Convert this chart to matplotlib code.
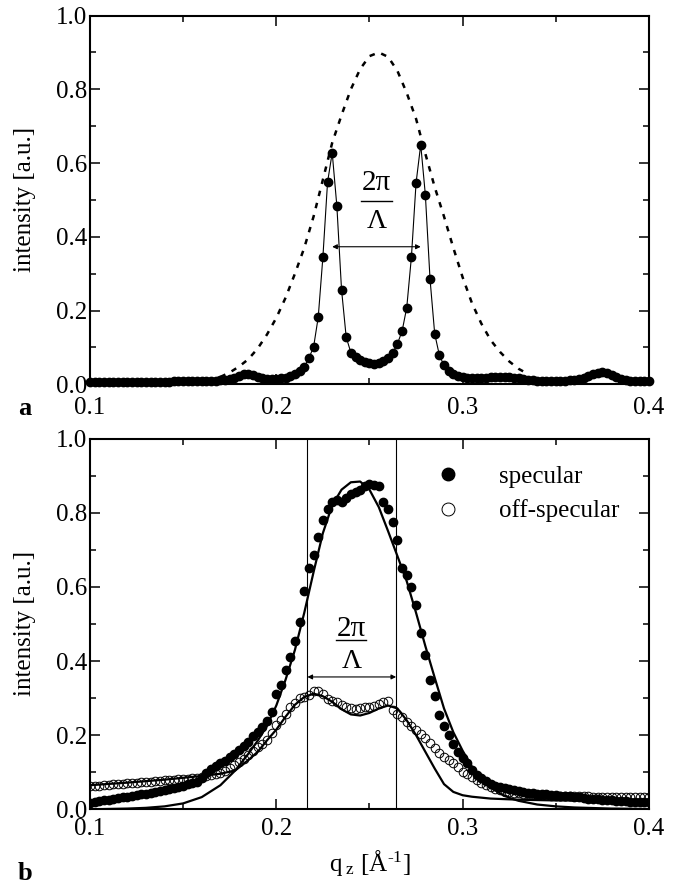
import numpy as np
import matplotlib
matplotlib.use("Agg")
import matplotlib.pyplot as plt
from matplotlib.ticker import MultipleLocator, FormatStrFormatter

plt.rcParams['font.family'] = ['Liberation Serif', 'DejaVu Serif']
plt.rcParams['mathtext.fontset'] = 'custom'
plt.rcParams['mathtext.rm'] = 'Liberation Serif'
plt.rcParams['mathtext.it'] = 'Liberation Serif:italic'

# measurement grid (same for all data sets)
q_start, q_step, n_pts = 0.1, 0.0025, 121
q_data = np.round(q_start + q_step * np.arange(n_pts), 5)

# --- panel a: measured intensity (dots) ---
int_a = [0.005, 0.005, 0.005, 0.005, 0.005, 0.005, 0.006, 0.006, 0.006, 0.006,
         0.006, 0.006, 0.007, 0.007, 0.007, 0.007, 0.007, 0.007, 0.008, 0.008,
         0.008, 0.008, 0.008, 0.009, 0.009, 0.009, 0.010, 0.010, 0.011, 0.012,
         0.014, 0.018, 0.023, 0.027, 0.028, 0.026, 0.021, 0.017, 0.015, 0.014,
         0.015, 0.016, 0.018, 0.022, 0.027, 0.035, 0.047, 0.071, 0.101, 0.182,
         0.345, 0.548, 0.628, 0.483, 0.257, 0.128, 0.086, 0.075, 0.066, 0.060,
         0.057, 0.056, 0.058, 0.063, 0.072, 0.086, 0.110, 0.144, 0.208, 0.345,
         0.546, 0.650, 0.513, 0.285, 0.137, 0.079, 0.051, 0.035, 0.027, 0.022,
         0.019, 0.017, 0.016, 0.016, 0.017, 0.018, 0.019, 0.020, 0.021, 0.021,
         0.020, 0.018, 0.016, 0.014, 0.012, 0.011, 0.010, 0.010, 0.010, 0.010,
         0.010, 0.010, 0.010, 0.011, 0.012, 0.014, 0.018, 0.023, 0.028, 0.031,
         0.032, 0.030, 0.025, 0.019, 0.014, 0.011, 0.009, 0.008, 0.008, 0.008,
         0.008]

# panel a: dotted envelope curve
q_env = [0.170, 0.175, 0.180, 0.185, 0.190, 0.195, 0.200, 0.205, 0.210, 0.215,
         0.220, 0.225, 0.230, 0.235, 0.240, 0.245, 0.250, 0.255, 0.260, 0.265,
         0.270, 0.275, 0.280, 0.285, 0.290, 0.295, 0.300, 0.305, 0.310, 0.315,
         0.320, 0.325, 0.330, 0.335]
int_env = [0.020, 0.032, 0.048, 0.068, 0.097, 0.135, 0.180, 0.235, 0.300, 0.370,
           0.455, 0.555, 0.655, 0.730, 0.800, 0.855, 0.890, 0.900, 0.888, 0.850,
           0.790, 0.720, 0.625, 0.535, 0.455, 0.370, 0.290, 0.220, 0.165, 0.120,
           0.088, 0.062, 0.042, 0.028]

# --- panel b: specular and off-specular data ---
spec_b = [0.018, 0.020, 0.022, 0.024, 0.026, 0.028, 0.030, 0.032, 0.034, 0.036,
          0.038, 0.040, 0.042, 0.045, 0.047, 0.050, 0.052, 0.055, 0.058, 0.061,
          0.064, 0.067, 0.070, 0.075, 0.085, 0.097, 0.108, 0.117, 0.125, 0.131,
          0.141, 0.150, 0.159, 0.170, 0.181, 0.198, 0.208, 0.222, 0.238, 0.262,
          0.310, 0.335, 0.375, 0.410, 0.455, 0.505, 0.590, 0.650, 0.685, 0.735,
          0.780, 0.811, 0.830, 0.833, 0.830, 0.840, 0.850, 0.855, 0.862, 0.871,
          0.878, 0.875, 0.871, 0.830, 0.811, 0.775, 0.725, 0.650, 0.632, 0.600,
          0.550, 0.475, 0.415, 0.350, 0.305, 0.255, 0.225, 0.200, 0.177, 0.155,
          0.138, 0.126, 0.105, 0.093, 0.085, 0.076, 0.068, 0.063, 0.060, 0.057,
          0.055, 0.052, 0.050, 0.047, 0.045, 0.043, 0.042, 0.041, 0.040, 0.039,
          0.038, 0.037, 0.036, 0.035, 0.033, 0.032, 0.030, 0.029, 0.028, 0.027,
          0.026, 0.025, 0.024, 0.023, 0.023, 0.022, 0.021, 0.021, 0.020, 0.020,
          0.020]

offspec_b = [0.062, 0.063, 0.064, 0.065, 0.066, 0.067, 0.068, 0.069, 0.070, 0.071,
             0.072, 0.073, 0.074, 0.075, 0.076, 0.077, 0.078, 0.079, 0.080, 0.081,
             0.082, 0.083, 0.084, 0.085, 0.087, 0.089, 0.092, 0.095, 0.099, 0.104,
             0.112, 0.119, 0.127, 0.136, 0.147, 0.158, 0.167, 0.175, 0.186, 0.205,
             0.228, 0.242, 0.258, 0.275, 0.288, 0.299, 0.302, 0.308, 0.320, 0.318,
             0.312, 0.298, 0.293, 0.290, 0.282, 0.276, 0.272, 0.271, 0.272, 0.276,
             0.277, 0.280, 0.285, 0.290, 0.292, 0.268, 0.258, 0.248, 0.235, 0.226,
             0.215, 0.203, 0.192, 0.178, 0.165, 0.152, 0.142, 0.133, 0.126, 0.113,
             0.102, 0.094, 0.087, 0.079, 0.072, 0.065, 0.059, 0.055, 0.051, 0.048,
             0.046, 0.044, 0.043, 0.042, 0.041, 0.040, 0.039, 0.038, 0.038, 0.037,
             0.037, 0.036, 0.036, 0.036, 0.035, 0.035, 0.035, 0.035, 0.034, 0.034,
             0.034, 0.034, 0.034, 0.033, 0.033, 0.033, 0.033, 0.033, 0.033, 0.032,
             0.032]

# panel b: fits
q_fit_spec = [0.100, 0.110, 0.120, 0.130, 0.140, 0.150, 0.160, 0.170, 0.178, 0.185,
              0.190, 0.195, 0.200, 0.205, 0.210, 0.215, 0.220, 0.225, 0.230, 0.235,
              0.240, 0.245, 0.250, 0.255, 0.260, 0.265, 0.270, 0.275, 0.280, 0.285,
              0.290, 0.295, 0.300, 0.305, 0.310, 0.315, 0.320, 0.325, 0.330, 0.340,
              0.350, 0.360, 0.380, 0.400]
fit_spec = [0.000, 0.001, 0.002, 0.004, 0.008, 0.016, 0.033, 0.065, 0.105, 0.150,
            0.185, 0.225, 0.280, 0.350, 0.430, 0.530, 0.640, 0.745, 0.820, 0.862,
            0.882, 0.884, 0.862, 0.815, 0.750, 0.683, 0.615, 0.530, 0.440, 0.355,
            0.272, 0.208, 0.158, 0.115, 0.085, 0.060, 0.043, 0.031, 0.023, 0.013,
            0.008, 0.005, 0.002, 0.001]

q_fit_off = [0.100, 0.120, 0.140, 0.160, 0.170, 0.178, 0.185, 0.190, 0.195, 0.200,
             0.205, 0.210, 0.215, 0.220, 0.225, 0.230, 0.235, 0.240, 0.245, 0.250,
             0.255, 0.260, 0.265, 0.270, 0.275, 0.280, 0.285, 0.290, 0.295, 0.300,
             0.305, 0.315, 0.330, 0.350, 0.400]
fit_off = [0.065, 0.072, 0.080, 0.090, 0.096, 0.105, 0.133, 0.155, 0.186, 0.215,
           0.250, 0.282, 0.303, 0.312, 0.305, 0.290, 0.270, 0.256, 0.253, 0.260,
           0.272, 0.280, 0.272, 0.240, 0.200, 0.155, 0.110, 0.068, 0.047, 0.038,
           0.034, 0.029, 0.026, 0.024, 0.022]

# vertical markers in b and peak positions in a
q_lines_b = [0.2167, 0.2643]
q_peaks_a = [0.2300, 0.2775]

FS = 18

fig = plt.figure(figsize=(6.78, 8.85), dpi=100)
ax_a = fig.add_axes([0.1327, 0.5658, 0.8245, 0.4166])
ax_b = fig.add_axes([0.1327, 0.0855, 0.8245, 0.4190])

# panel a
ax_a.plot(q_env, int_env, color='black', lw=1.8, ls=(0, (2.2, 2.8)))
ax_a.plot(q_data, int_a, color='black', lw=0.8, marker='o', ms=6,
          mfc='black', mec='black', clip_on=False, zorder=3)
ax_a.annotate('', xy=(q_peaks_a[1], 0.373), xytext=(q_peaks_a[0], 0.373),
              arrowprops=dict(arrowstyle='<|-|>', lw=0.8, color='black',
                              mutation_scale=7, shrinkA=0, shrinkB=0))
ax_a.text(0.2539, 0.545, '2π', fontsize=21, ha='center', va='center')
ax_a.plot([0.2455, 0.2620], [0.497, 0.497], color='black', lw=1.0)
ax_a.text(0.2539, 0.442, 'Λ', fontsize=20, ha='center', va='center')

# panel b
ax_b.plot(q_data, spec_b, ls='none', marker='o', ms=6, mfc='black',
          mec='black', label='specular', zorder=2)
ax_b.plot(q_data, offspec_b, ls='none', marker='o', ms=6.2, mfc='none',
          mec='black', mew=0.7, label='off-specular', zorder=2)
ax_b.plot(q_fit_spec, fit_spec, color='black', lw=1.6, zorder=3)
ax_b.plot(q_fit_off, fit_off, color='black', lw=1.6, zorder=3)
for qv in q_lines_b:
    ax_b.axvline(qv, color='black', lw=0.8, zorder=1)
ax_b.annotate('', xy=(q_lines_b[1], 0.357), xytext=(q_lines_b[0], 0.357),
              arrowprops=dict(arrowstyle='<|-|>', lw=0.8, color='black',
                              mutation_scale=7, shrinkA=0, shrinkB=0))
ax_b.text(0.2405, 0.487, '2π', fontsize=21, ha='center', va='center')
ax_b.plot([0.2318, 0.2483], [0.456, 0.456], color='black', lw=1.0)
ax_b.text(0.2405, 0.400, 'Λ', fontsize=20, ha='center', va='center')

leg = ax_b.legend(loc='upper left', bbox_to_anchor=(0.618, 0.927), frameon=False,
                  fontsize=FS, handlelength=1.0, handletextpad=1.55,
                  labelspacing=0.45, borderpad=0, borderaxespad=0, markerscale=1.5)

ax_b.set_xlabel(r'q$_{\rm\ z}$ [Å$^{\rm ‐1}$]', fontsize=FS, labelpad=6)

for ax, xpad in ((ax_a, 9), (ax_b, 6)):
    ax.set_xlim(0.1, 0.4)
    ax.set_ylim(0.0, 1.0)
    ax.xaxis.set_major_locator(MultipleLocator(0.1))
    ax.xaxis.set_minor_locator(MultipleLocator(0.05))
    ax.yaxis.set_major_locator(MultipleLocator(0.2))
    ax.yaxis.set_minor_locator(MultipleLocator(0.1))
    ax.xaxis.set_major_formatter(FormatStrFormatter('%.1f'))
    ax.yaxis.set_major_formatter(FormatStrFormatter('%.1f'))
    ax.tick_params(which='both', direction='in', top=True, right=True,
                   width=1.1, labelsize=FS)
    ax.tick_params(which='major', length=7)
    ax.tick_params(which='minor', length=4.5)
    ax.tick_params(axis='x', pad=xpad)
    ax.tick_params(axis='y', pad=2)
    for sp in ax.spines.values():
        sp.set_linewidth(1.5)
    ax.set_ylabel('intensity [a.u.]', fontsize=FS, labelpad=14)

fig.text(18 / 678, 1 - 408 / 885, 'a', fontsize=19, fontweight='bold',
         ha='left', va='center')
fig.text(18 / 678, 1 - 873 / 885, 'b', fontsize=19, fontweight='bold',
         ha='left', va='center')

fig.savefig('out.png', dpi=100)
